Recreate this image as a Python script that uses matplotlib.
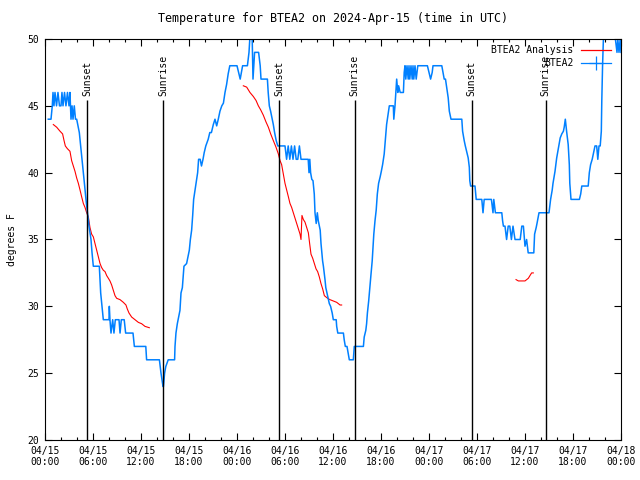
import datetime as dt
import matplotlib
matplotlib.use('Agg')
import matplotlib.pyplot as plt
from matplotlib.ticker import MultipleLocator

# hours since 2024-04-15 00:00 UTC
blue_hours = [0.41, 0.75, 0.91, 1.0, 1.12, 1.25, 1.44, 1.62, 1.81, 2.0, 2.12, 2.25, 2.44, 2.62, 2.81, 3.0,
              3.12, 3.25, 3.38, 3.5, 3.66, 3.81, 3.96, 4.29, 4.46, 4.62, 4.79, 4.96, 5.12, 5.31, 5.5, 5.75,
              5.88, 6.04, 6.79, 6.88, 6.96, 7.12, 7.29, 8.0, 8.04, 8.12, 8.25, 8.46, 8.62, 8.79, 9.25, 9.38,
              9.54, 9.75, 9.9, 10.08, 11.0, 11.17, 12.6, 12.7, 14.3, 14.5, 14.75, 14.8, 14.95, 15.1, 15.4,
              16.2, 16.25, 16.37, 16.54, 16.7, 16.87, 17.0, 17.17, 17.37, 17.7, 17.87, 18.04, 18.17, 18.33,
              18.46, 18.58, 18.83, 19.08, 19.2, 19.4, 19.56, 19.75, 19.9, 20.1, 20.4, 20.6, 20.8, 21.04,
              21.25, 21.46, 21.66, 21.87, 22.1, 22.3, 22.5, 22.7, 22.9, 23.1, 24.0, 24.4, 24.7, 25.3, 25.5,
              25.6, 25.9, 26.0, 26.2, 26.7, 26.9, 27.0, 27.8, 27.9, 28.04, 28.2, 28.4, 28.54, 28.7, 28.9,
              29.1, 30.0, 30.2, 30.4, 30.6, 30.8, 31.0, 31.2, 31.4, 31.6, 31.8, 32.0, 32.9, 33.0, 33.1, 33.2,
              33.35, 33.5, 33.66, 33.75, 33.9, 34.04, 34.16, 34.4, 34.5, 34.7, 34.8, 35.0, 35.1, 35.25, 35.4,
              35.54, 35.7, 35.9, 36.04, 36.4, 36.46, 36.6, 37.3, 37.4, 37.54, 37.75, 37.9, 38.04, 38.54,
              38.66, 39.8, 39.9, 40.1, 40.2, 40.3, 40.46, 40.6, 40.75, 40.9, 41.0, 41.1, 41.25, 41.4, 41.54,
              41.7, 41.9, 42.04, 42.2, 42.4, 42.54, 42.7, 42.9, 43.04, 43.54, 43.6, 43.75, 43.96, 44.1, 44.2,
              44.4, 44.8, 44.9, 45.0, 45.1, 45.25, 45.4, 45.5, 45.6, 45.75, 45.9, 46.0, 46.1, 46.25, 46.4,
              46.6, 47.8, 48.0, 48.2, 48.4, 48.5, 49.6, 49.75, 49.9, 50.06, 50.2, 50.4, 50.54, 50.75, 52.1,
              52.2, 52.4, 52.54, 52.7, 52.9, 53.04, 53.1, 53.2, 53.75, 53.9, 54.6, 54.75, 54.9, 55.8, 56.0,
              56.1, 56.3, 57.1, 57.2, 57.3, 57.5, 57.7, 57.9, 58.1, 58.3, 58.5, 58.75, 59.4, 59.6, 59.8, 60.0,
              60.2, 60.4, 61.1, 61.2, 61.4, 61.5, 61.75, 63.0, 63.2, 63.4, 63.5, 63.75, 63.96, 64.2, 64.4,
              64.6, 64.8, 64.9, 65.04, 65.2, 65.4, 65.54, 65.6, 65.75, 66.8, 66.96, 67.1, 67.9, 68.04, 68.2,
              68.4, 68.54, 68.75, 68.96, 69.1, 69.25, 69.4, 69.54, 69.6, 69.7, 69.8, 70.0, 70.5, 71.0, 71.3,
              71.5, 71.6, 71.75, 71.9, 72.0]
blue_temp = [44, 44, 45, 46, 45, 46, 45, 46, 45, 45, 46, 45, 46, 45, 46, 45,
             46, 44, 45, 44, 45, 44, 44, 43, 42, 41, 40, 39, 38, 37, 36, 35,
             34, 33, 33, 32, 31, 30, 29, 29, 30, 29, 28, 29, 28, 29, 29, 28,
             29, 29, 29, 28, 28, 27, 27, 26, 26, 25, 24, 24, 25, 25.5, 26,
             26, 27, 28, 28.7, 29.2, 29.7, 31, 31.4, 33, 33.2, 33.7, 34.2, 35, 35.7,
             36.8, 38, 39, 40, 41, 41, 40.5, 41, 41.5, 42, 42.5, 43, 43, 43.6,
             44, 43.5, 44, 44.6, 45, 45.2, 46, 46.6, 47.4, 48, 48, 47, 48, 48, 49,
             50, 50, 47, 49, 49, 48, 47, 47, 46, 45, 44.6, 44, 43.6, 43, 42.4,
             42, 42, 41, 42, 41, 42, 41, 42, 41, 41, 42, 41, 41, 40, 41, 40,
             39.5, 39.4, 38.4, 37, 36.2, 37, 36.4, 35.7, 34.7, 33.4, 33, 32, 31.4, 31, 30.6,
             30.2, 30, 29.5, 29, 29, 28.5, 28, 28, 27.5, 27, 27, 26.5, 26, 26,
             27, 27, 27.7, 28.2, 28.7, 29.5, 30.4, 31.4, 32.4, 33.4, 34.4, 35.4, 36.4, 37.2, 38.4,
             39.2, 39.7, 40.1, 40.6, 41.4, 42.4, 43.6, 44.4, 45, 45, 44, 45, 47, 46, 46.5,
             46, 46, 47.5, 48, 47, 48, 47, 48, 47, 48, 47, 48, 47, 48, 47,
             48, 48, 47.5, 47, 47.5, 48, 48, 47.5, 47, 47, 46.4, 45.6, 44.6, 44, 44,
             43.1, 42.4, 42, 41.6, 41.1, 40.4, 39.4, 39, 39, 38, 38, 37, 38, 38, 37,
             38, 37, 37, 36.4, 36, 36, 35, 36, 36, 35, 36, 35, 35, 36, 36, 34.5,
             35, 34, 34, 35.4, 35.9, 36.2, 37, 37, 38, 38.7, 39.2, 40.1, 41.1, 41.9, 42.6,
             42.9, 43.1, 43.4, 44, 43.1, 42.1, 40.6, 39.2, 38, 38, 38.4, 39, 39, 40, 40.6,
             41, 41.4, 42, 42, 41, 42, 42, 43.1, 45.4, 48.1, 50, 51, 52, 51, 50,
             49, 50, 49, 50, 49]

red_hours = [1.04, 1.46, 1.88, 2.2, 2.38, 2.54, 2.79, 3.12, 3.33, 3.54, 3.75, 3.96, 4.17, 4.38, 4.58,
             4.79, 5.0, 5.21, 5.42, 5.62, 5.83, 6.04, 6.25, 6.46, 6.67, 6.88, 7.08, 7.29, 7.5, 7.71,
             7.92, 8.12, 8.33, 8.54, 8.75, 8.96, 9.38, 9.79, 10.12, 10.29, 10.5, 10.83, 11.25, 11.67,
             12.08, 12.5, 13.04, None,
             24.79, 25.21, 25.62, 26.04, 26.38, 26.67, 26.96, 27.29, 27.62, 27.92, 28.21, 28.54, 28.88,
             29.17, 29.38, 29.58, 29.79, 30.0, 30.21, 30.42, 30.62, 30.83, 31.04, 31.25, 31.46, 31.67,
             31.88, 32.0, 32.12, 32.29, 32.5, 32.71, 32.92, 33.08, 33.25, 33.46, 33.67, 33.88, 34.08,
             34.29, 34.5, 34.71, 34.92, 35.12, 35.33, 35.62, 36.04, 36.46, 36.88, 37.08, None,
             58.88, 59.17, 59.58, 60.0, 60.21, 60.42, 60.62, 60.83, 61.04]
red_temp = [43.6, 43.4, 43.1, 42.9, 42.4, 42.0, 41.8, 41.6, 40.9, 40.5, 40.1, 39.6, 39.2, 38.7, 38.2,
            37.7, 37.4, 37.0, 36.7, 35.9, 35.4, 35.2, 34.7, 34.2, 33.7, 33.2, 32.9, 32.7, 32.6, 32.3,
            32.1, 31.9, 31.6, 31.2, 30.8, 30.6, 30.5, 30.3, 30.1, 29.8, 29.5, 29.2, 29.0, 28.8,
            28.7, 28.5, 28.4, None,
            46.5, 46.4, 46.0, 45.7, 45.4, 45.0, 44.7, 44.3, 43.8, 43.4, 42.9, 42.4, 41.9,
            41.4, 40.9, 40.6, 39.9, 39.2, 38.7, 38.2, 37.7, 37.4, 37.0, 36.6, 36.2, 35.8,
            35.4, 35.0, 36.8, 36.5, 36.3, 35.9, 35.5, 34.7, 33.9, 33.6, 33.2, 32.8, 32.6,
            32.2, 31.7, 31.3, 30.8, 30.7, 30.6, 30.5, 30.4, 30.3, 30.1, 30.1, None,
            32.0, 31.9, 31.9, 31.9, 32.0, 32.1, 32.3, 32.5, 32.5]

sun_hours = [5.3, 14.77, 29.3, 38.7, 53.33, 62.6]
sun_labels = ['Sunset', 'Sunrise', 'Sunset', 'Sunrise', 'Sunset', 'Sunrise']

start = dt.datetime(2024, 4, 15, 0, 0)
plt.rcParams['font.family'] = ['DejaVu Sans Mono']
plt.rcParams['font.size'] = 7

fig = plt.figure(figsize=(6.4, 4.8), dpi=100)
ax = fig.add_axes([45 / 640, 40 / 480, 576 / 640, 401 / 480])

red_h = [h if h is not None else float('nan') for h in red_hours]
red_t = [t if t is not None else float('nan') for t in red_temp]
ax.plot(red_h, red_t, color='#ff0000', lw=0.8)
ax.plot(blue_hours, blue_temp, color='#0080ff', lw=1.1)

for h, lab in zip(sun_hours, sun_labels):
    ax.vlines(h, 20, 45.4, color='black', lw=1.0)
    ax.text(h, 45.7, lab, rotation=90, ha='center', va='bottom')

ax.set_xlim(0, 72)
ax.set_ylim(20, 50)
ax.xaxis.set_major_locator(MultipleLocator(6))
ax.xaxis.set_minor_locator(MultipleLocator(2))
ax.yaxis.set_major_locator(MultipleLocator(5))
xt = list(range(0, 73, 6))
ax.set_xticks(xt)
ax.set_xticklabels([(start + dt.timedelta(hours=h)).strftime('%m/%d\n%H:%M') for h in xt])
ax.tick_params(which='both', direction='in', top=True, right=True, width=0.8)
ax.tick_params(which='major', length=5, pad=4)
ax.tick_params(which='minor', length=2.5)
for s in ax.spines.values():
    s.set_linewidth(0.8)

ax.set_title('Temperature for BTEA2 on 2024-Apr-15 (time in UTC)', pad=12)
ax.set_ylabel('degrees F', labelpad=8)

# gnuplot style key, top right
keys = [('BTEA2 Analysis', '#ff0000', None), ('BTEA2', '#0080ff', '+')]
for i, (lab, c, m) in enumerate(keys):
    yk = 0.973 - i * 0.033
    ax.text(0.917, yk, lab, transform=ax.transAxes, ha='right', va='center')
    ax.plot([0.930, 0.982], [yk, yk], color=c, lw=0.9, transform=ax.transAxes, clip_on=False)
    if m:
        ax.plot([0.956], [yk], marker=m, ms=10, mew=0.9, color=c, transform=ax.transAxes, clip_on=False)

fig.savefig('out.png', dpi=100)
